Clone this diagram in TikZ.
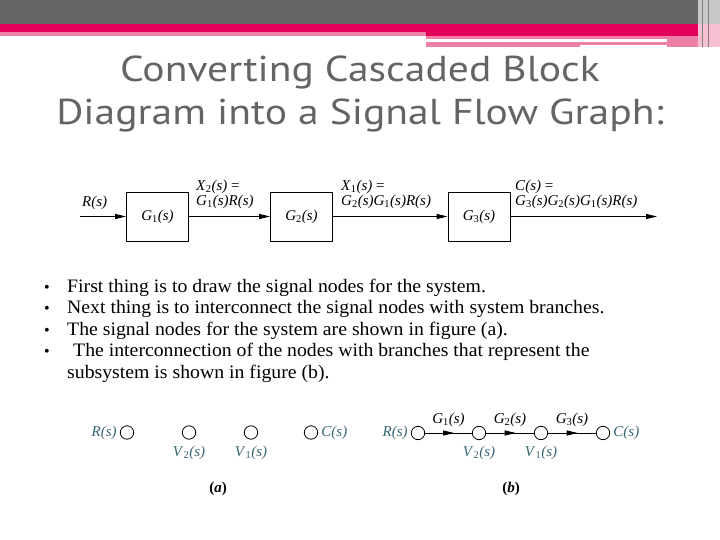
\documentclass[tikz,border=0pt]{standalone}
\usepackage{fontspec}
\setmainfont{Liberation Serif}
\newfontfamily\titlefont[FakeStretch=1.155]{PT Sans}
\newfontfamily\bodyfont[FakeStretch=1.04]{Liberation Serif}
\usetikzlibrary{arrows.meta,decorations.markings}

\definecolor{bandgray}{RGB}{102,102,102}
\definecolor{crimson}{RGB}{226,0,90}
\definecolor{lightpink}{RGB}{238,128,168}
\definecolor{paleband}{RGB}{200,200,200}
\definecolor{sfgteal}{RGB}{55,100,115}
\definecolor{titlegray}{RGB}{100,100,100}

% G_1(s) style labels
\newcommand{\sv}[2]{\textit{#1}\textsubscript{#2}\textit{(s)}}
\newcommand{\svn}[1]{\textit{#1}\textit{(s)}}

\begin{document}
\begin{tikzpicture}[x=1pt,y=-1pt,
    title/.style={anchor=base, inner sep=0pt, text=titlegray, font=\titlefont\fontsize{36}{36}\selectfont},
    blk/.style={draw, line width=0.9pt, minimum width=62pt, minimum height=49pt, inner sep=0pt, font=\fontsize{15}{15}\selectfont},
    sig/.style={line width=0.9pt, -{Triangle[length=11pt,width=5pt]}},
    lbl/.style={inner sep=0pt, align=left, font=\fontsize{15}{15.5}\selectfont},
    snode/.style={draw, circle, line width=0.8pt, minimum size=13.4pt, inner sep=0pt},
    slbl/.style={inner sep=0pt, text=sfgteal, font=\fontsize{15}{15}\selectfont},
    glbl/.style={inner sep=0pt, font=\fontsize{15}{15}\selectfont},
    branch/.style={line width=0.9pt, postaction={decorate},
      decoration={markings, mark=at position 0.62 with {\arrow{Triangle[length=11pt,width=5pt]}}}},
    dot/.style={anchor=base, inner sep=0pt, font=\fontsize{16}{16}\selectfont},
    bullettext/.style={anchor=base west, inner sep=0pt, font=\bodyfont\fontsize{19}{19}\selectfont}]
  \useasboundingbox (0,0) rectangle (720,540);

  % header bands
  \fill[bandgray] (0,0) rectangle (698,24);
  \fill[paleband] (698,0) rectangle (720,24);
  \fill[crimson] (0,24) rectangle (698,32);
  \fill[lightpink] (0,32) rectangle (426,36);
  \fill[crimson] (426,32) rectangle (698,36);
  \fill[lightpink] (426,36) rectangle (698,39);
  \fill[lightpink] (426,42) rectangle (580,47);
  \fill[lightpink] (580,42) rectangle (667,45);
  \fill[lightpink] (667,39) rectangle (698,47);
  \fill[lightpink!50] (698,24) rectangle (720,47);
  \draw[gray, line width=1pt] (702,0) -- (702,47) (708,0) -- (708,47);

  % title
  \node[title] (t1) at (360,82) {Converting Cascaded Block};
  \node[title] (t2) at (360,125) {Diagram into a Signal Flow Graph:};

  % cascaded block diagram
  \coordinate (rin) at (80,216.5);
  \node[blk] (g1) at (157.5,216.5) {\sv{G}{1}};
  \node[blk] (g2) at (301.5,216.5) {\sv{G}{2}};
  \node[blk] (g3) at (479,216.5) {\sv{G}{3}};
  \coordinate (cout) at (657,216.5);

  \draw[sig] (rin) -- (g1);
  \draw[sig] (g1) -- (g2);
  \draw[sig] (g2) -- (g3);
  \draw[sig] (g3) -- (cout);

  \node[lbl, anchor=base west] (rlbl) at (82,207) {\svn{R}};
  \node[lbl, anchor=south west] (x2lbl) at (196,209) {\sv{X}{2} =\\\sv{G}{1}\svn{R}};
  \node[lbl, anchor=south west] (x1lbl) at (341,209) {\sv{X}{1} =\\\sv{G}{2}\sv{G}{1}\svn{R}};
  \node[lbl, anchor=south west] (clbl) at (515,209) {\svn{C} =\\\sv{G}{3}\sv{G}{2}\sv{G}{1}\svn{R}};

  % bullet points
  \node[dot] (d1) at (47,292) {\textbullet};
  \node[dot] (d2) at (47,313.5) {\textbullet};
  \node[dot] (d3) at (47,335) {\textbullet};
  \node[dot] (d4) at (47,356.5) {\textbullet};
  \node[bullettext] (p1) at (67,292) {First thing is to draw the signal nodes for the system.};
  \node[bullettext] (p2) at (67,313.5) {Next thing is to interconnect the signal nodes with system branches.};
  \node[bullettext] (p3) at (67,335) {The signal nodes for the system are shown in figure (a).};
  \node[bullettext] (p4) at (73,356.5) {The interconnection of the nodes with branches that represent the};
  \node[bullettext] (p5) at (67,378) {subsystem is shown in figure (b).};

  % signal nodes, figure (a)
  \node[snode] (a1) at (127,432.5) {};
  \node[snode] (a2) at (189,432.5) {};
  \node[snode] (a3) at (251,432.5) {};
  \node[snode] (a4) at (311,432.5) {};
  \node[slbl, anchor=east] (ar) at ([xshift=-3pt]a1.west) {\svn{R}};
  \node[slbl, anchor=west] (ac) at ([xshift=3pt]a4.east) {\svn{C}};
  \node[slbl, anchor=north] (av2) at ([yshift=-6pt]a2.south) {\sv{V}{2}};
  \node[slbl, anchor=north] (av1) at ([yshift=-6pt]a3.south) {\sv{V}{1}};
  \node[glbl] (capa) at (218,489) {\textbf{(\textit{a})}};

  % signal flow graph, figure (b)
  \node[snode] (b1) at (418,433) {};
  \node[snode] (b2) at (479,433) {};
  \node[snode] (b3) at (541,433) {};
  \node[snode] (b4) at (603,433) {};
  \draw[branch] (b1) -- node[glbl, above=6pt] (bg1) {\sv{G}{1}} (b2);
  \draw[branch] (b2) -- node[glbl, above=6pt] (bg2) {\sv{G}{2}} (b3);
  \draw[branch] (b3) -- node[glbl, above=6pt] (bg3) {\sv{G}{3}} (b4);
  \node[slbl, anchor=east] (br) at ([xshift=-3pt]b1.west) {\svn{R}};
  \node[slbl, anchor=west] (bc) at ([xshift=3pt]b4.east) {\svn{C}};
  \node[slbl, anchor=north] (bv2) at ([yshift=-6pt]b2.south) {\sv{V}{2}};
  \node[slbl, anchor=north] (bv1) at ([yshift=-6pt]b3.south) {\sv{V}{1}};
  \node[glbl] (capb) at (511,489) {\textbf{(\textit{b})}};
\end{tikzpicture}
\end{document}
